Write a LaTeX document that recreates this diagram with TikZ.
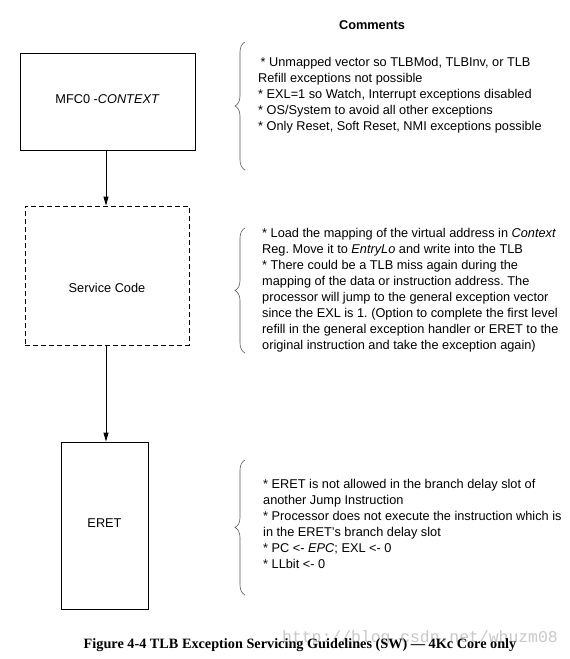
\documentclass[tikz,border=0pt]{standalone}
\usepackage{fontspec}
\setmainfont{Liberation Sans}
\newfontfamily\capfont{Liberation Serif}
\newfontfamily\wmfont{Liberation Mono}
\usepackage{tikz}
\usepackage{xcolor}
\usetikzlibrary{
    decorations.pathreplacing,
    arrows.meta,
    calc,
    positioning
}
\frenchspacing
\definecolor{wmgray}{RGB}{200,200,200}
\definecolor{brgray}{RGB}{90,90,90}
\tikzset{exbox/.style={draw=black, line width=0.9pt, inner sep=0pt}}
\tikzset{exboxd/.style={exbox, dash pattern=on 5pt off 3pt}}
\tikzset{exnote/.style={inner sep=0pt, anchor=west, align=left, font=\fontsize{12.75}{16}\selectfont}}
\tikzset{exbrace/.style={draw=brgray, line width=0.6pt, decorate, decoration={brace, amplitude=10pt}}}
\tikzset{exarrow/.style={line width=0.9pt, -{Triangle[length=9pt, width=5pt]}}}

\begin{document}
\begin{tikzpicture}[x=1pt, y=-1pt]
                        \useasboundingbox[fill=white] (0, 0) rectangle (570, 659);
                        \node[font=\fontsize{12.75}{16}\selectfont\bfseries] (head) at (372, 25) {Comments};
                        \node[exbox, minimum width=175pt, minimum height=97pt] (mfc) at (107.5, 101.5) {};
                        \node[exboxd, minimum width=164pt, minimum height=139pt] (serv) at (107, 275.5) {};
                        \node[exbox, minimum width=87pt, minimum height=167pt] (eret) at (104.5, 525.5) {};
                        \node[font=\fontsize{12.75}{16}\selectfont] (mfct) at (107.5, 99) {MFC0 -\textit{CONTEXT}};
                        \node[font=\fontsize{12.75}{16}\selectfont] (servt) at (107, 288) {Service Code};
                        \node[font=\fontsize{12.75}{16}\selectfont] (erett) at (104.5, 523) {ERET};
                        \coordinate (a0) at (106, 150);
                        \coordinate (b0) at (106, 345);
                        \draw[exarrow] (a0) -- (a0 |- serv.north);
                        \draw[exarrow] (b0) -- (b0 |- eret.north);
                        % comment braces
                        \draw[exbrace] (245, 170) -- (245, 42);
                        \draw[exbrace] (245, 353) -- (245, 228);
                        \draw[exbrace] (245, 595) -- (245, 460);
                        \node[exnote] (n1) at (258, 95) {\hspace{2.5pt}* Unmapped vector so TLBMod, TLBInv, or TLB\\
                            Refill exceptions not possible\\
                            * EXL=1 so Watch, Interrupt exceptions disabled\\
                            * OS/System to avoid all other exceptions\\
                            * Only Reset, Soft Reset, NMI exceptions possible};
                        \node[exnote] (n2) at (262, 290) {* Load the mapping of the virtual address in \textit{Context}\\
                            Reg. Move it to \textit{EntryLo} and write into the TLB\\
                            * There could be a TLB miss again during the\\
                            mapping of the data or instruction address. The\\
                            processor will jump to the general exception vector\\
                            since the EXL is 1. (Option to complete the first level\\
                            refill in the general exception handler or ERET to the\\
                            original instruction and take the exception again)};
                        \node[exnote] (n3) at (263, 524) {* ERET is not allowed in the branch delay slot of\\
                            another Jump Instruction\\
                            * Processor does not execute the instruction which is\\
                            in the ERET's branch delay slot\\
                            * PC <- \textit{EPC}; EXL <- 0\\
                            * LLbit <- 0};
                        \node[font=\fontsize{16.4}{18}\wmfont, text=wmgray] (wm) at (420, 638) {http://blog.csdn.net/whuzm08};
                        \node[font=\fontsize{14.25}{16}\capfont\bfseries] (cap) at (300, 645) {Figure 4-4 TLB Exception Servicing Guidelines (SW) — 4Kc Core only};
                    \end{tikzpicture}
\end{document}
